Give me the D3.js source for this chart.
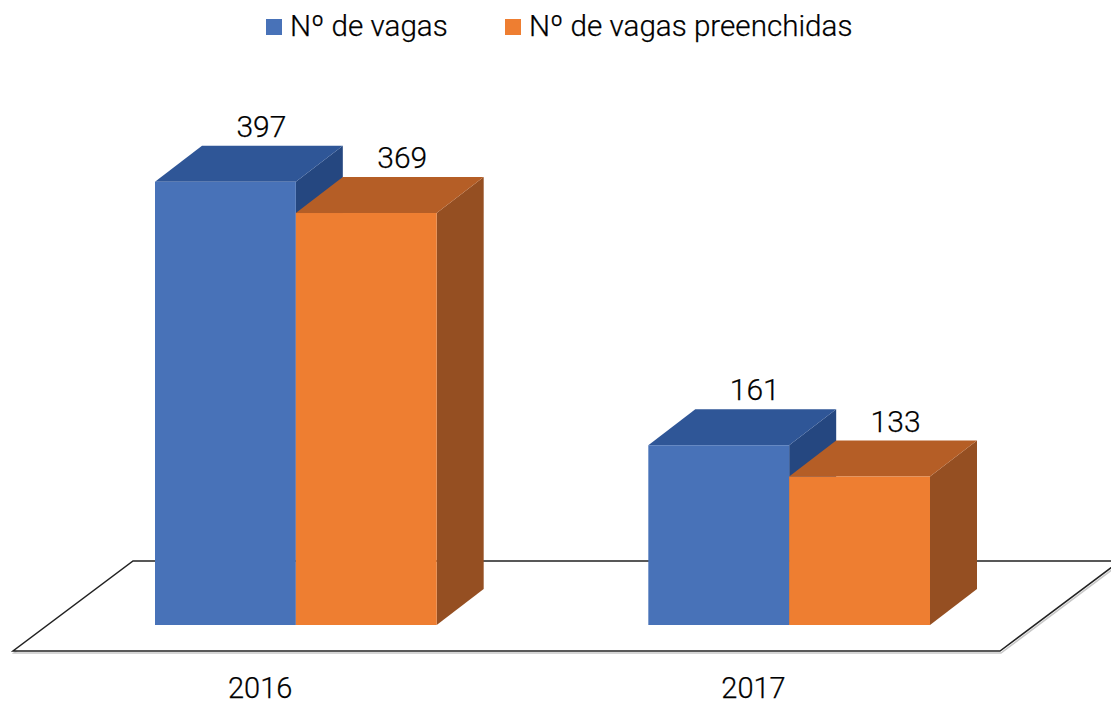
<!DOCTYPE html>
<html>
<head>
<meta charset="utf-8">
<script src="https://cdn.jsdelivr.net/npm/d3@7"></script>
<style>
  html, body { margin: 0; padding: 0; background: #fff; }
  svg { display: block; }
  text { font-family: Roboto, "Noto Sans", sans-serif; font-weight: 300; fill: #000; stroke: #000; stroke-width: 0.25; }
</style>
</head>
<body>
<svg id="chart" width="1111" height="705"></svg>
<script>
// ---- data ----
const categories = ["2016", "2017"];
const seriesNames = ["Nº de vagas", "Nº de vagas preenchidas"];
const vagas = [397, 161];
const preenchidas = [369, 133];
const seriesValues = [vagas, preenchidas];

// ---- styles ----
const faceColors = [
  { front: "#4872B8", top: "#2F5697", side: "#254780" },
  { front: "#EE7E31", top: "#B55E26", side: "#954F22" }
];
const legendColors = ["#4872B8", "#EE7E31"];

const W = 1111, H = 705;
const svg = d3.select("#chart");

// depth of bars (3D offset)
const depthX = 47, depthY = -36;
// floor geometry
const baseY = 625;           // front-bottom of bars
const floorFrontY = 651, floorBackY = 561;
const floorSlope = 0.75;     // dy/dx of floor side edges

const x0 = d3.scaleBand().domain(categories).range([155, 930]).paddingInner(0.429).paddingOuter(0);
const x1 = d3.scaleBand().domain(d3.range(seriesNames.length)).range([0, x0.bandwidth()]).padding(0);
const y = d3.scaleLinear().domain([0, 400]).range([baseY, 178.4]);

// ---- floor ----
const floorLeftFront = 13, floorRightFront = 1000;
const fdx = (floorFrontY - floorBackY) / floorSlope;
const floorPts = [
  [floorLeftFront, floorFrontY],
  [floorRightFront, floorFrontY],
  [floorRightFront + fdx, floorBackY],
  [floorLeftFront + fdx, floorBackY]
];
svg.append("polygon")
  .attr("points", floorPts.map(p => [p[0] + 1, p[1] + 2].join(",")).join(" "))
  .attr("fill", "none").attr("stroke", "#c8c8c8").attr("stroke-width", 1.5);
svg.append("polygon")
  .attr("points", floorPts.map(p => p.join(",")).join(" "))
  .attr("fill", "#fff").attr("stroke", "#222").attr("stroke-width", 1.5)
  .attr("stroke-linejoin", "miter");

// ---- bars ----
const g = svg.append("g");
categories.forEach((cat, ci) => {
  seriesValues.forEach((vals, si) => {
    const v = vals[ci];
    const xL = x0(cat) + x1(si);
    const xR = xL + x1.bandwidth();
    const yT = y(v);
    const yB = y(0);
    const c = faceColors[si];
    g.append("polygon")
      .attr("points", [[xR, yT], [xR + depthX, yT + depthY], [xR + depthX, yB + depthY], [xR, yB]].map(p => p.join(",")).join(" "))
      .attr("fill", c.side);
    g.append("polygon")
      .attr("points", [[xL, yT], [xL + depthX, yT + depthY], [xR + depthX, yT + depthY], [xR, yT]].map(p => p.join(",")).join(" "))
      .attr("fill", c.top);
    g.append("rect")
      .attr("x", xL).attr("y", yT).attr("width", xR - xL).attr("height", yB - yT)
      .attr("fill", c.front);
  });
});

// ---- value labels ----
categories.forEach((cat, ci) => {
  seriesValues.forEach((vals, si) => {
    const v = vals[ci];
    const cx = x0(cat) + x1(si) + x1.bandwidth() / 2 + 36;
    svg.append("text")
      .attr("x", cx).attr("y", y(v) + depthY - 9)
      .attr("text-anchor", "middle")
      .attr("font-size", 30)
      .text(v);
  });
});

// ---- category labels ----
const catOffsetX = -(floorFrontY - baseY) / floorSlope;
svg.append("g").selectAll("text").data(categories).join("text")
  .attr("x", d => x0(d) + x0.bandwidth() / 2 + catOffsetX - 1)
  .attr("y", 698)
  .attr("text-anchor", "middle")
  .attr("font-size", 29)
  .text(d => d);

// ---- legend ----
const legendX = [266, 505];
const lg = svg.append("g");
seriesNames.forEach((name, i) => {
  lg.append("rect").attr("x", legendX[i]).attr("y", 19).attr("width", 16).attr("height", 16).attr("fill", legendColors[i]).attr("stroke", "none");
  lg.append("text").attr("x", legendX[i] + 24).attr("y", 36).attr("font-size", 29.6).text(name);
});
</script>
</body>
</html>
